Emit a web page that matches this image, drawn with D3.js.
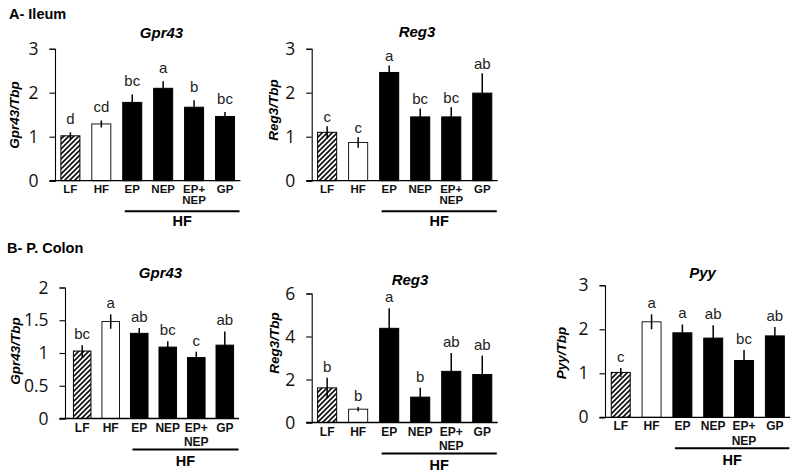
<!DOCTYPE html>
<html>
<head>
<meta charset="utf-8">
<script src="https://cdn.jsdelivr.net/npm/d3@7"></script>
<style>
	body { margin: 0; background: #fff; }
	text { font-family: "Liberation Sans", Arial, sans-serif; }
	.tick-label { font-family: "Open Sans", sans-serif; font-size: 17.5px; }
</style>
</head>
<body>
<svg id="chart" width="800" height="476"></svg>
<script>
// groups on the x axis, "EP+ NEP" is drawn on two lines
var categories = ["LF", "HF", "EP", "NEP", "EP+ NEP", "GP"];
var hfGroup = ["EP", "NEP", "EP+ NEP", "GP"];

// A- Ileum
var ileumGpr43 = [1.02, 1.29, 1.78, 2.10, 1.67, 1.46];
var ileumGpr43Sem = [0.08, 0.08, 0.18, 0.16, 0.16, 0.10];
var ileumGpr43Letters = ["d", "cd", "bc", "a", "b", "bc"];
var ileumGpr43Ticks = [0, 1, 2, 3];

var ileumReg3 = [1.10, 0.87, 2.46, 1.45, 1.45, 1.99];
var ileumReg3Sem = [0.14, 0.12, 0.16, 0.19, 0.22, 0.45];
var ileumReg3Letters = ["c", "c", "a", "bc", "bc", "ab"];
var ileumReg3Ticks = [0, 1, 2, 3];

// B- P. Colon
var colonGpr43 = [1.03, 1.48, 1.30, 1.09, 0.93, 1.12];
var colonGpr43Sem = [0.09, 0.11, 0.08, 0.09, 0.09, 0.21];
var colonGpr43Letters = ["bc", "a", "ab", "bc", "c", "ab"];
var colonGpr43Ticks = [0, 0.5, 1, 1.5, 2];

var colonReg3 = [1.61, 0.62, 4.38, 1.18, 2.38, 2.23];
var colonReg3Sem = [0.47, 0.10, 0.93, 0.44, 0.85, 0.88];
var colonReg3Letters = ["b", "b", "a", "b", "ab", "ab"];
var colonReg3Ticks = [0, 2, 4, 6];

var colonPyy = [1.02, 2.17, 1.92, 1.80, 1.29, 1.85];
var colonPyySem = [0.10, 0.17, 0.19, 0.29, 0.24, 0.20];
var colonPyyLetters = ["c", "a", "a", "ab", "bc", "ab"];
var colonPyyTicks = [0, 1, 2, 3];

// where each small chart sits on the page
var panels = [
	{ title: "Gpr43", ylabel: "Gpr43/Tbp", mean: ileumGpr43, sem: ileumGpr43Sem, letters: ileumGpr43Letters, ticks: ileumGpr43Ticks,
	  axisX: 55, range: [55, 240.4], y0: 180.7, y1: 48.7, titleX: 161.5, titleY: 38, ylabX: 19, ylabY: 115, gap: 8,
	  lab: { size: 11.5, l1: 12, l2: 23.5, line: 30.5, hf: 45.5 } },
	{ title: "Reg3", ylabel: "Reg3/Tbp", mean: ileumReg3, sem: ileumReg3Sem, letters: ileumReg3Letters, ticks: ileumReg3Ticks,
	  axisX: 311.7, range: [311.7, 497.7], y0: 180.7, y1: 48.7, titleX: 417, titleY: 37, ylabX: 278, ylabY: 110, gap: 4.5,
	  lab: { size: 11.5, l1: 12, l2: 23.5, line: 30.5, hf: 45.5 } },
	{ title: "Gpr43", ylabel: "Gpr43/Tbp", mean: colonGpr43, sem: colonGpr43Sem, letters: colonGpr43Letters, ticks: colonGpr43Ticks,
	  axisX: 65, range: [68, 239], y0: 418.5, y1: 287.5, titleX: 160.5, titleY: 278, ylabX: 20, ylabY: 351, gap: 6,
	  lab: { size: 12, l1: 13, l2: 27.5, line: 31, hf: 47.5 } },
	{ title: "Reg3", ylabel: "Reg3/Tbp", mean: colonReg3, sem: colonReg3Sem, letters: colonReg3Letters, ticks: colonReg3Ticks,
	  axisX: 311.7, range: [311.7, 497.7], y0: 422.5, y1: 293.5, titleX: 410, titleY: 285, ylabX: 279, ylabY: 343, gap: 6,
	  lab: { size: 12, l1: 13, l2: 27.5, line: 31, hf: 47.5 } },
	{ title: "Pyy", ylabel: "Pyy/Tbp", mean: colonPyy, sem: colonPyySem, letters: colonPyyLetters, ticks: colonPyyTicks,
	  axisX: 605, range: [605.4, 790.2], y0: 417.3, y1: 285.3, titleX: 702.5, titleY: 278, ylabX: 566, ylabY: 353, gap: 6,
	  lab: { size: 12, l1: 13, l2: 27.5, line: 31, hf: 47.5 } }
];

var svg = d3.select("#chart");

// diagonal hatch for the LF bars
var pattern = svg.append("defs").append("pattern")
	.attr("id", "hatch")
	.attr("patternUnits", "userSpaceOnUse")
	.attr("width", 5)
	.attr("height", 5);
pattern.append("rect").attr("width", 5).attr("height", 5).attr("fill", "#fff");
pattern.append("path")
	.attr("d", "M-1,1 l2,-2 M0,5 l5,-5 M4,6 l2,-2")
	.attr("stroke", "#111")
	.attr("stroke-width", 1.7);

function barFill(cat) {
	if (cat == "LF") return "url(#hatch)";
	if (cat == "HF") return "#fff";
	return "#000";
}

// section headings
svg.append("text").attr("x", 9).attr("y", 18.5)
	.attr("font-size", 14.5).attr("font-weight", "bold").text("A- Ileum");
svg.append("text").attr("x", 7).attr("y", 253)
	.attr("font-size", 14.5).attr("font-weight", "bold").text("B- P. Colon");

panels.forEach(function(p) {
	var rows = categories.map(function(c, i) {
		return { cat: c, mean: p.mean[i], sem: p.sem[i], letter: p.letters[i] };
	});
	var yMax = d3.max(p.ticks);

	var x = d3.scaleBand()
		.domain(categories)
		.range(p.range)
		.paddingInner(0.385)
		.paddingOuter(0.19);

	var y = d3.scaleLinear()
		.domain([0, yMax])
		.range([p.y0, p.y1]);

	var g = svg.append("g");

	// y axis
	var yAxis = g.append("g")
		.attr("transform", "translate(" + p.axisX + ",0)")
		.call(d3.axisLeft(y).tickValues(p.ticks).tickSize(5.5).tickPadding(11).tickFormat(function(d) { return String(d); }));
	yAxis.select(".domain").attr("stroke", "#000").attr("stroke-width", 1.1);
	yAxis.selectAll(".tick line").attr("stroke", "#000").attr("stroke-width", 1.1);
	yAxis.selectAll(".tick text")
		.attr("class", "tick-label")
		.attr("font-size", null)
		.attr("font-family", null)
		.attr("fill", "#111");

	// bars
	g.selectAll(".bar")
		.data(rows)
		.enter().append("rect")
		.attr("class", "bar")
		.attr("x", function(d) { return x(d.cat); })
		.attr("width", x.bandwidth())
		.attr("y", function(d) { return y(d.mean); })
		.attr("height", function(d) { return p.y0 - y(d.mean); })
		.attr("fill", function(d) { return barFill(d.cat); })
		.attr("stroke", "#000")
		.attr("stroke-width", function(d) { return d.cat == "HF" ? 0.9 : 1; });

	// error bars (mean +/- sem)
	g.selectAll(".err")
		.data(rows)
		.enter().append("line")
		.attr("class", "err")
		.attr("x1", function(d) { return x(d.cat) + x.bandwidth() / 2; })
		.attr("x2", function(d) { return x(d.cat) + x.bandwidth() / 2; })
		.attr("y1", function(d) { return y(d.mean + d.sem); })
		.attr("y2", function(d) { return y(Math.max(0, d.mean - d.sem)); })
		.attr("stroke", "#000")
		.attr("stroke-width", 1.5);

	// significance letters
	g.selectAll(".letter")
		.data(rows)
		.enter().append("text")
		.attr("class", "letter")
		.attr("x", function(d) { return x(d.cat) + x.bandwidth() / 2; })
		.attr("y", function(d) { return y(d.mean + d.sem) - p.gap; })
		.attr("text-anchor", "middle")
		.attr("font-size", 15)
		.attr("fill", "#222")
		.text(function(d) { return d.letter; });

	// x axis line
	g.append("line")
		.attr("x1", p.axisX - 5.5).attr("x2", p.range[1])
		.attr("y1", p.y0).attr("y2", p.y0)
		.attr("stroke", "#000").attr("stroke-width", 1.3);

	// category labels
	var cats = g.selectAll(".cat")
		.data(categories)
		.enter().append("text")
		.attr("class", "cat")
		.attr("text-anchor", "middle")
		.attr("font-size", p.lab.size)
		.attr("font-weight", "bold")
		.attr("fill", "#111");
	cats.each(function(c) {
		var parts = c.split(" ");
		var t = d3.select(this);
		parts.forEach(function(s, k) {
			t.append("tspan")
				.attr("x", x(c) + x.bandwidth() / 2)
				.attr("y", p.y0 + (k == 0 ? p.lab.l1 : p.lab.l2))
				.text(s);
		});
	});

	// HF bracket under the diet groups
	var hx1 = x(hfGroup[0]) + 2;
	var hx2 = x(hfGroup[hfGroup.length - 1]) + x.bandwidth() + 5;
	g.append("line")
		.attr("x1", hx1).attr("x2", hx2)
		.attr("y1", p.y0 + p.lab.line).attr("y2", p.y0 + p.lab.line)
		.attr("stroke", "#000").attr("stroke-width", 2);
	g.append("text")
		.attr("x", (hx1 + hx2) / 2)
		.attr("y", p.y0 + p.lab.hf)
		.attr("text-anchor", "middle")
		.attr("font-size", 14.5)
		.attr("font-weight", "bold")
		.text("HF");

	// title
	g.append("text")
		.attr("x", p.titleX).attr("y", p.titleY)
		.attr("text-anchor", "middle")
		.attr("font-size", 15)
		.attr("font-weight", "bold")
		.attr("font-style", "italic")
		.text(p.title);

	// y label
	g.append("text")
		.attr("transform", "translate(" + p.ylabX + "," + p.ylabY + ") rotate(-90)")
		.attr("text-anchor", "middle")
		.attr("font-size", 13.5)
		.attr("font-weight", "bold")
		.attr("font-style", "italic")
		.text(p.ylabel);
});
</script>
</body>
</html>
